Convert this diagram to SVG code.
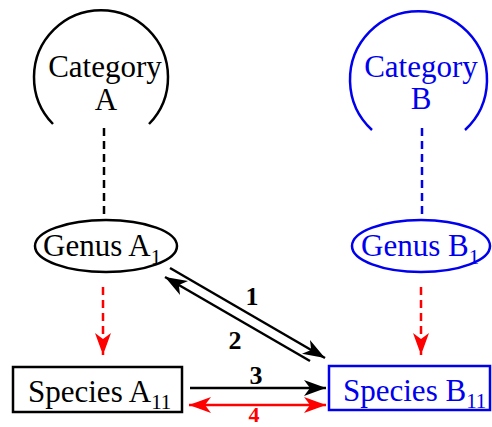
<svg xmlns="http://www.w3.org/2000/svg" width="492" height="427" viewBox="0 0 492 427">
  <defs>
    <style>
      .lbl { font-family: "Liberation Serif", "Times New Roman", serif; font-size: 31px; }
      .sub { font-size: 21px; }
      .num { font-family: "Liberation Serif", "Times New Roman", serif; font-size: 26px; font-weight: bold; }
      .blk { stroke: #000; fill: none; stroke-width: 2.5; }
      .blu { stroke: #0000ee; fill: none; stroke-width: 2.5; }
      .red { stroke: #ff0000; fill: none; stroke-width: 2.5; }
      .dash { stroke-dasharray: 8 5; }
    </style>
    <marker id="headK" markerUnits="userSpaceOnUse" markerWidth="24" markerHeight="18" refX="22" refY="8" orient="auto-start-reverse">
      <path d="M0,0 L22,8 L0,16 L6,8 z" fill="#000"/>
    </marker>
    <marker id="headR" markerUnits="userSpaceOnUse" markerWidth="24" markerHeight="18" refX="22" refY="8" orient="auto-start-reverse">
      <path d="M0,0 L22,8 L0,16 L6,8 z" fill="#ff0000"/>
    </marker>
  </defs>

  <!-- category A -->
  <g id="categoryA">
    <path class="blk" d="M53,124 A67,67 0 1 1 149,124"/>
    <text class="lbl" x="105" y="77" text-anchor="middle">Category</text>
    <text class="lbl" x="106" y="110" text-anchor="middle">A</text>
  </g>

  <!-- category B -->
  <g id="categoryB">
    <path class="blu" d="M372,130 A68.5,68.5 0 1 1 465,130"/>
    <text class="lbl" x="421" y="77" text-anchor="middle" fill="#0000ee">Category</text>
    <text class="lbl" x="421" y="109" text-anchor="middle" fill="#0000ee">B</text>
  </g>

  <!-- genus A1 -->
  <g id="genusA1">
    <ellipse class="blk" cx="106" cy="246" rx="71" ry="26"/>
    <text class="lbl" x="43" y="256">Genus A<tspan class="sub" dy="8">1</tspan></text>
  </g>

  <!-- genus B1 -->
  <g id="genusB1">
    <ellipse class="blu" cx="421" cy="246" rx="69" ry="26"/>
    <text class="lbl" x="361" y="256" fill="#0000ee">Genus B<tspan class="sub" dy="8">1</tspan></text>
  </g>

  <!-- species A11 -->
  <g id="speciesA11">
    <rect class="blk" x="13" y="367" width="169" height="45"/>
    <text class="lbl" x="28" y="402">Species A<tspan class="sub" dy="7">11</tspan></text>
  </g>

  <!-- species B11 -->
  <g id="speciesB11">
    <rect class="blu" x="329" y="366" width="161" height="44"/>
    <text class="lbl" x="343" y="401" fill="#0000ee">Species B<tspan class="sub" dy="7">11</tspan></text>
  </g>

  <!-- connectors -->
  <g id="connectors">
    <line class="blk dash" x1="104" y1="128" x2="104" y2="218"/>
    <line class="blu dash" x1="422" y1="128" x2="422" y2="218"/>
    <line class="red dash" x1="103" y1="287" x2="103" y2="355" marker-end="url(#headR)"/>
    <line class="red dash" x1="421" y1="287" x2="421" y2="355" marker-end="url(#headR)"/>
    <line class="blk" x1="170" y1="268" x2="325" y2="358" marker-end="url(#headK)"/>
    <line class="blk" x1="310" y1="361" x2="165" y2="277" marker-end="url(#headK)"/>
    <line class="blk" x1="190" y1="388" x2="326" y2="388" marker-end="url(#headK)"/>
    <line class="red" x1="189" y1="405" x2="326" y2="405" marker-start="url(#headR)" marker-end="url(#headR)"/>
    <text class="num" x="252" y="305" text-anchor="middle">1</text>
    <text class="num" x="235" y="349" text-anchor="middle">2</text>
    <text class="num" x="256" y="384" text-anchor="middle">3</text>
    <text class="num" x="254" y="422" text-anchor="middle" fill="#ff0000" style="font-size:22px">4</text>
  </g>
</svg>
